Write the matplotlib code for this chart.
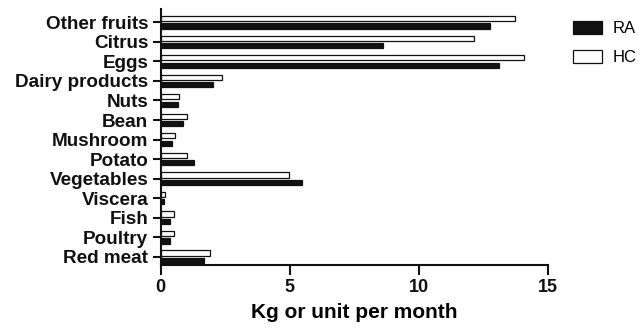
import numpy as np
import matplotlib
matplotlib.use('Agg')
import matplotlib.pyplot as plt

plt.rcParams['font.family'] = ['Liberation Sans', 'DejaVu Sans']

# categories from top to bottom, as in the figure
categories = ['Other fruits', 'Citrus', 'Eggs', 'Dairy products', 'Nuts', 'Bean',
              'Mushroom', 'Potato', 'Vegetables', 'Viscera', 'Fish', 'Poultry', 'Red meat']
ra = [12.76, 8.63, 13.10, 2.03, 0.67, 0.87, 0.44, 1.29, 5.47, 0.15, 0.38, 0.35, 1.70]
hc = [13.74, 12.14, 14.09, 2.38, 0.70, 1.03, 0.58, 1.02, 4.99, 0.19, 0.53, 0.52, 1.91]
xticks = [0, 5, 10, 15]

fig = plt.figure(figsize=(6.44, 3.30), dpi=100)
ax = fig.add_axes([160.5/644, 1 - 265/330, (547.7 - 160.5)/644, (265 - 9.3)/330])

n = len(categories)
y = np.arange(n)[::-1]
h = 0.27
off = 0.19
ax.barh(y + off, hc, height=h, color='white', edgecolor='#111111', linewidth=0.9, label='HC')
ax.barh(y - off, ra, height=h, color='#111111', edgecolor='#111111', linewidth=0.9, label='RA')

ax.set_xlim(0, 15)
ax.set_ylim(-0.425, 12.67)
ax.set_xticks(xticks)
ax.set_xticklabels([str(t) for t in xticks], fontsize=13, fontweight='bold')
ax.set_yticks(y)
ax.set_yticklabels(categories, fontsize=13.6, fontweight='bold')
ax.set_xlabel('Kg or unit per month', fontsize=15, fontweight='bold', labelpad=5)

for s in ['top', 'right']:
    ax.spines[s].set_visible(False)
for s in ['left', 'bottom']:
    ax.spines[s].set_linewidth(1.5)
    ax.spines[s].set_color('#111111')
ax.tick_params(axis='x', length=7.2, width=1.5, pad=3, colors='#111111')
ax.tick_params(axis='y', length=5.8, width=1.5, pad=3, colors='#111111')

handles, labels = ax.get_legend_handles_labels()
fig.legend(handles[::-1], labels[::-1], loc='upper left',
           bbox_to_anchor=(573/644, 1 - 20.5/330), frameon=False,
           fontsize=12, borderpad=0, borderaxespad=0,
           handlelength=1.75, handleheight=0.85, handletextpad=0.6,
           labelspacing=0.85)

fig.savefig('out.png', dpi=100)
